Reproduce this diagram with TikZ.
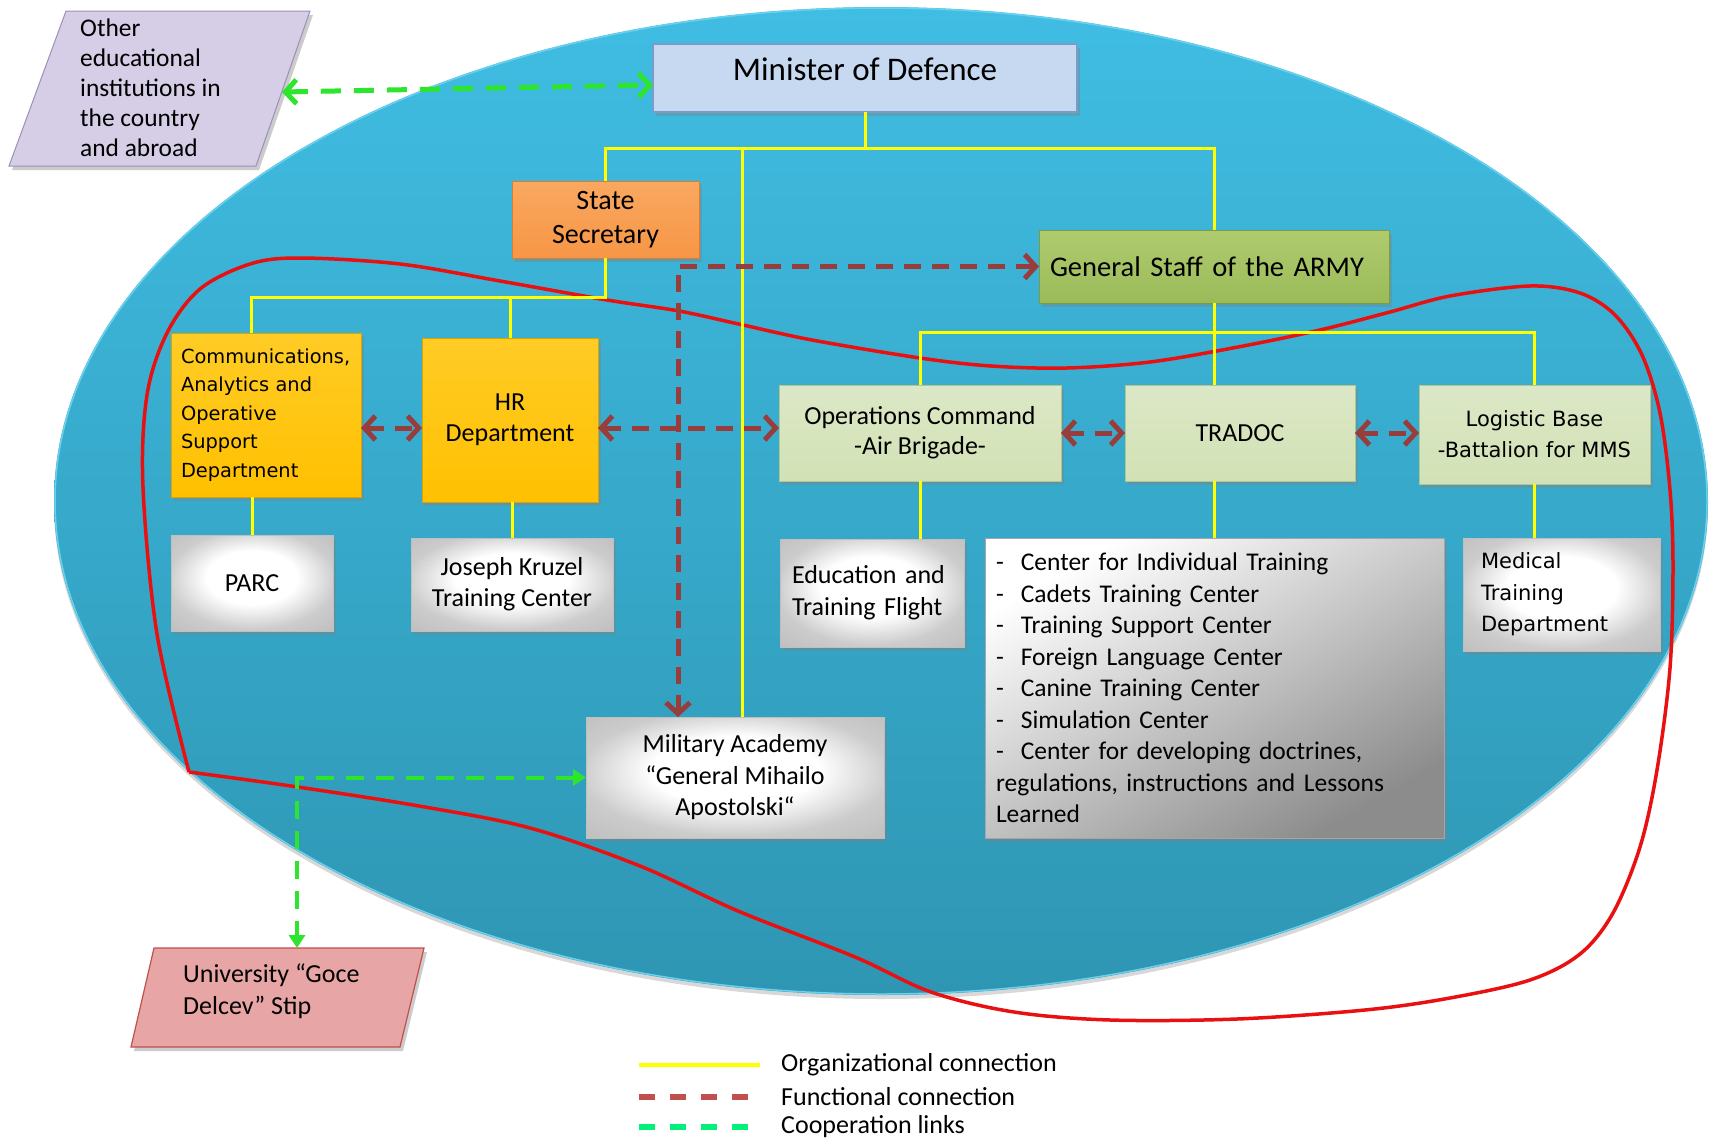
\documentclass[tikz,border=0pt]{standalone}
\usepackage{fontspec}
\setmainfont{Carlito}
\newfontfamily\vfont{DejaVu Sans}
\usetikzlibrary{arrows.meta,shadows,calc}
\newcommand{\setfs}[2]{\fontsize{#1}{#2}\selectfont}
\definecolor{minfill}{HTML}{C6D9F1}
\definecolor{minline}{HTML}{7B9CC8}
\definecolor{orng}{HTML}{F79646}
\definecolor{orngl}{HTML}{F9A860}
\definecolor{orngd}{HTML}{E07B2A}
\definecolor{gsfill}{HTML}{9BBB59}
\definecolor{gsl}{HTML}{AFCB6E}
\definecolor{gsd}{HTML}{7E9A44}
\definecolor{goldc}{HTML}{FFC000}
\definecolor{goldl}{HTML}{FFCC26}
\definecolor{goldd}{HTML}{D9A300}
\definecolor{lgreen}{HTML}{D2E1B5}
\definecolor{lgreenl}{HTML}{DCE8C6}
\definecolor{lgreend}{HTML}{B3C68E}
\definecolor{ellT}{HTML}{40BDE3}
\definecolor{ellB}{HTML}{2E96B3}
\definecolor{ellR}{HTML}{6BD0EE}
\definecolor{orgc}{HTML}{FFFF00}
\definecolor{funcc}{HTML}{993C3C}
\definecolor{coopc}{HTML}{2DE52D}
\definecolor{legred}{HTML}{C0504D}
\definecolor{leggreen}{HTML}{00F07A}
\definecolor{redc}{HTML}{E81010}
\definecolor{lav}{HTML}{D6CDE6}
\definecolor{lavline}{HTML}{9C8FB8}
\definecolor{pinkf}{HTML}{E8A5A5}
\definecolor{pinkline}{HTML}{C0504D}
\pgfdeclareradialshading{wglow}{\pgfpoint{0bp}{4bp}}{color(0bp)=(white); color(14bp)=(white); color(26bp)=(black!20); color(50bp)=(black!32)}
\begin{document}
\begin{tikzpicture}[x=1pt,y=-1pt,
  shd/.style={drop shadow={shadow xshift=3pt,shadow yshift=-4pt,opacity=0.4}},
  bx/.style={inner sep=0pt, outer sep=0pt, align=center, shd},
  whitebox/.style={bx, shading=wglow, draw=black!25, line width=0.6pt},
  goldbox/.style={bx, top color=goldl, bottom color=goldc, draw=goldd, line width=0.6pt},
  lgbox/.style={bx, top color=lgreenl, bottom color=lgreen, draw=lgreend, line width=0.6pt},
  org/.style={draw=orgc, line width=3pt},
  func/.style={draw=funcc, line width=5pt, dash pattern=on 17pt off 11pt,
    {Straight Barb[length=11pt,width=24pt]}-{Straight Barb[length=11pt,width=24pt]}},
  coop/.style={draw=coopc, line width=5pt, dash pattern=on 20pt off 13pt,
    {Straight Barb[length=11pt,width=24pt]}-{Straight Barb[length=11pt,width=24pt]}},
  coopT/.style={draw=coopc, line width=4pt, dash pattern=on 18pt off 12pt,
    {Triangle[length=13pt,width=16pt]}-{Triangle[length=13pt,width=16pt]}},
  redline/.style={draw=redc, line width=3.5pt},
  legtext/.style={anchor=west, inner sep=0pt, font=\setfs{26}{30}}
]
\useasboundingbox (0,0) rectangle (1711,1143);
\fill[white] (0,0) rectangle (1711,1143);

% big ellipse
\shade[top color=ellT, bottom color=ellB, drop shadow={shadow xshift=0pt,shadow yshift=-4pt,opacity=0.3}]
  (881,501) ellipse [x radius=827, y radius=494];
\draw[ellR, line width=1.5pt] (881,501) ellipse [x radius=826, y radius=493];

% red outline
\draw[redline] plot[smooth, tension=0.55] coordinates {
 (189,772) (157,634) (143,487) (147,395) (167,333) (200,289) (250,264) (300,258)
 (400,264) (500,281) (607,300) (679,311) (743,325) (812,340) (920,358) (991,366)
 (1067,368) (1150,362) (1238,347) (1320,330) (1390,312) (1450,296) (1530,286)
 (1580,293) (1615,315) (1642,355) (1660,413) (1670,490) (1673,566) (1670,668)
 (1657,770) (1640,847) (1613,913) (1580,954) (1530,980) (1450,998) (1365,1010)
 (1237,1019) (1110,1020) (1014,1012) (931,992) (855,957) (738,911) (640,866)
 (530,828) (419,806) (291,786) (189,772)};

% parallelograms
\path[fill=lav, draw=lavline, line width=1pt, shd] (66,11) -- (310,11) -- (256,166) -- (9,166) -- cycle;
\coordinate (otherE) at (282,92);
\node[anchor=west, inner sep=0pt, align=left, font=\setfs{25.4}{30}] (other) at (80,88)
  {Other\\educational\\institutions in\\the country\\and abroad};
\path[fill=pinkf, draw=pinkline, line width=1.2pt, shd] (154,948) -- (424,948) -- (400,1047) -- (131,1047) -- cycle;
\coordinate (uniN) at (297,948);
\node[anchor=west, inner sep=0pt, align=left, font=\setfs{26}{32}] (uni) at (183,991)
  {University “Goce\\Delcev” Stip};

% boxes
\node[bx, fill=minfill, draw=minline, line width=2pt, minimum width=424pt, minimum height=68pt,
  font=\setfs{33}{40}] (minister) at (865,78) {\raisebox{18pt}{Minister of Defence}};
\node[bx, top color=orngl, bottom color=orng, draw=orngd, line width=0.6pt, minimum width=187pt,
  minimum height=77pt, font=\setfs{28}{34}] (state) at (605.5,219.5) {State\\Secretary};
\node[bx, top color=gsl, bottom color=gsfill, draw=gsd, line width=0.6pt, minimum width=350pt,
  minimum height=73pt, text width=328pt, align=left, font=\setfs{28.5}{34}] (gs) at (1214,266.5)
  {General Staff of the ARMY};
\node[goldbox, minimum width=190pt, minimum height=164pt, text width=170pt, align=left,
  font=\vfont\setfs{19.4}{28.4}] (comms) at (266,415)
  {Communications,\\Analytics and\\Operative\\Support\\Department};
\node[goldbox, minimum width=176pt, minimum height=164pt, font=\setfs{26}{31}] (hr) at (510,420)
  {HR\\Department};
\node[whitebox, minimum width=162pt, minimum height=96pt, font=\setfs{26}{31}] (parc) at (252,583) {PARC};
\node[whitebox, minimum width=202pt, minimum height=93pt, font=\setfs{26}{31}] (jk) at (512,584.5)
  {Joseph Kruzel\\Training Center};
\node[lgbox, minimum width=282pt, minimum height=96pt, font=\setfs{26}{30}] (ops) at (920,433)
  {Operations Command\\-Air Brigade-};
\node[lgbox, minimum width=230pt, minimum height=96pt, font=\setfs{26}{30}] (tradoc) at (1240,433) {TRADOC};
\node[lgbox, minimum width=231pt, minimum height=99pt, font=\vfont\setfs{21}{31}] (logb) at (1534.5,434.5)
  {Logistic Base\\-Battalion for MMS};
\node[whitebox, minimum width=184pt, minimum height=108pt, text width=160pt, align=left,
  font=\setfs{26}{32}] (edu) at (872,593) {Education and\\Training Flight};
\node[bx, top color=white, bottom color=black!45, shading angle=30, draw=black!35, line width=0.6pt,
  minimum width=459pt, minimum height=300pt, text width=437pt, align=left, font=\setfs{25.5}{31.5}]
  (list) at (1214.5,688)
  {-~~Center for Individual Training\\
   -~~Cadets Training Center\\
   -~~Training Support Center\\
   -~~Foreign Language Center\\
   -~~Canine Training Center\\
   -~~Simulation Center\\
   -~~Center for developing doctrines,\\
   regulations, instructions and Lessons\\
   Learned};
\node[whitebox, minimum width=197pt, minimum height=113pt, text width=161pt, align=left,
  font=\vfont\setfs{21}{31.5}] (med) at (1561.5,594.5) {Medical\\Training\\Department};
\node[whitebox, minimum width=298pt, minimum height=121pt, font=\setfs{26}{31.5}] (ma) at (735,777.5)
  {Military Academy\\“General Mihailo\\Apostolski“};

% organizational connections
\coordinate (bus) at ($(minister.south)+(0,36)$);
\draw[org] (minister.south) -- (bus) -| (state.north);
\draw[org] (bus) -| (gs.north);
\coordinate (maTop) at ($(ma.north)+(7,0)$);
\draw[org] (maTop |- bus) -- (maTop);
\coordinate (bus2) at ($(state.south)+(0,39)$);
\coordinate (commsTop) at ($(comms.north)+(-15,0)$);
\draw[org] (state.south) -- (bus2) -| (hr.north);
\draw[org] (bus2) -| (commsTop);
\draw[org] (parc.north |- comms.south) -- (parc.north);
\draw[org] (jk.north |- hr.south) -- (jk.north);
\coordinate (bus3) at ($(gs.south)+(0,29)$);
\draw[org] (gs.south) -- (gs.south |- tradoc.north);
\draw[org] (ops.north) |- (bus3) -| (logb.north);
\draw[org] (ops.south) -- (ops.south |- edu.north);
\draw[org] (list.north |- tradoc.south) -- (list.north);
\draw[org] (logb.south) -- (logb.south |- med.north);

% functional connections
\draw[func] ([yshift=-13pt]comms.east) -- ([yshift=-13pt]comms.east -| hr.west);
\draw[func] ([yshift=-8pt]hr.east) -- ([yshift=-8pt]hr.east -| ops.west);
\draw[func] (ops.east) -- (ops.east -| tradoc.west);
\draw[func] (tradoc.east) -- (tradoc.east -| logb.west);
\draw[func] (gs.west) -| ([xshift=-57pt]ma.north);

% cooperation links
\draw[coop] (otherE) -- ([yshift=-7pt]minister.west);
\draw[coopT] (ma.west) -| (uniN);

% legend
\coordinate (la1) at (639,1065); \coordinate (lb1) at (760,1065);
\coordinate (la2) at (639,1097); \coordinate (lb2) at (753,1097);
\coordinate (la3) at (639,1127); \coordinate (lb3) at (753,1127);
\draw[draw=orgc, line width=4pt] (la1) -- (lb1);
\draw[draw=legred, line width=6pt, dash pattern=on 16pt off 15pt] (la2) -- (lb2);
\draw[draw=leggreen, line width=6pt, dash pattern=on 16pt off 15pt] (la3) -- (lb3);
\node[legtext] (lt1) at (781,1065) {Organizational connection};
\node[legtext] (lt2) at (781,1097) {Functional connection};
\node[legtext] (lt3) at (781,1127) {Cooperation links};
\end{tikzpicture}
\end{document}
